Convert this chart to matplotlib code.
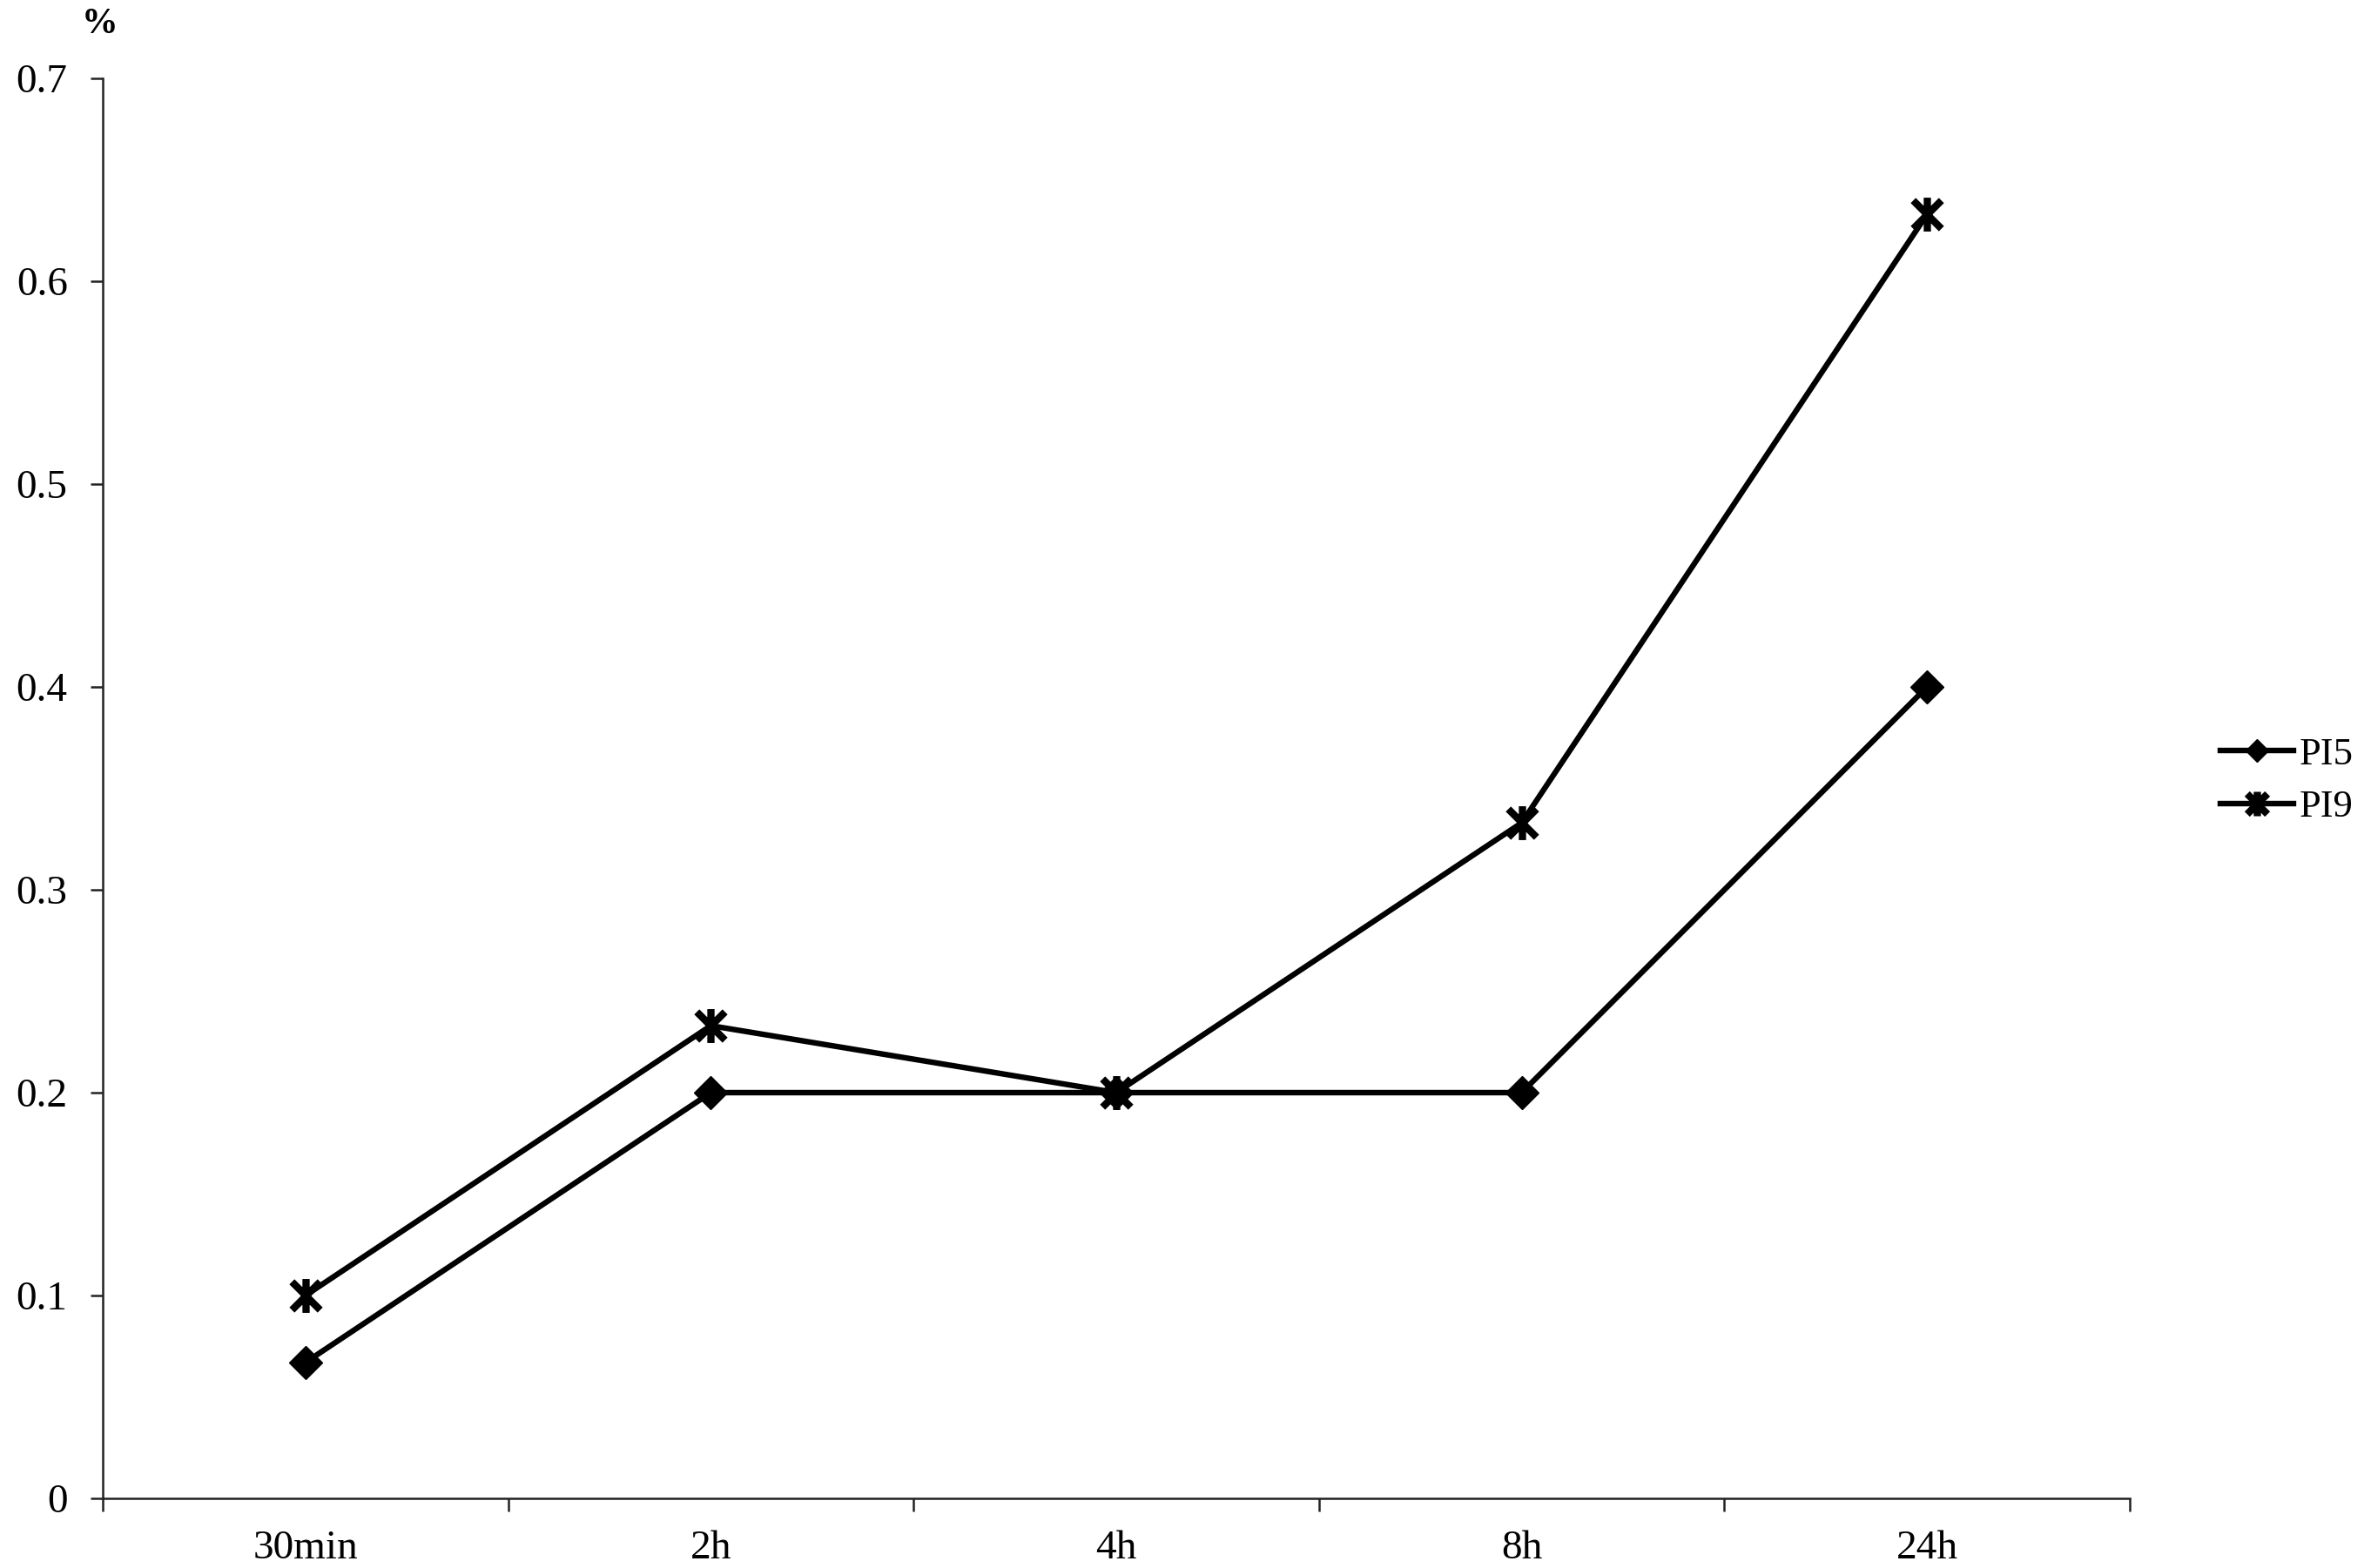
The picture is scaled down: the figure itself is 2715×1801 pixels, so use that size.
import matplotlib
matplotlib.use('Agg')
import matplotlib.pyplot as plt
from matplotlib.path import Path

plt.rcParams['font.family'] = ['Liberation Serif', 'DejaVu Serif']

categories = ['30min', '2h', '4h', '8h', '24h']
pi5 = [0.067, 0.2, 0.2, 0.2, 0.4]
pi9 = [0.1, 0.233, 0.2, 0.333, 0.633]
yticks = [0, 0.1, 0.2, 0.3, 0.4, 0.5, 0.6, 0.7]
ytick_labels = ['0', '0.1', '0.2', '0.3', '0.4', '0.5', '0.6', '0.7']

# excel style star: X with a vertical bar
star = Path([(-1, -1), (1, 1), (-1, 1), (1, -1), (0, -1.2), (0, 1.2)],
            [Path.MOVETO, Path.LINETO, Path.MOVETO, Path.LINETO, Path.MOVETO, Path.LINETO])

fig = plt.figure(figsize=(27.15, 18.01), dpi=100)
ax = fig.add_axes([118/2715, 1-1721/1801, (2446-118)/2715, (1721-90)/1801])

x = list(range(len(categories)))
ax.plot(x, pi5, color='black', linewidth=4.6, marker='D', markersize=19,
        label='PI5')
ax.plot(x, pi9, color='black', linewidth=4.6, marker=star, markersize=28,
        markeredgewidth=6, markerfacecolor='none', label='PI9')

ax.set_xlim(-0.5, len(categories) - 0.5)
ax.set_ylim(0, 0.7)
for s in ['top', 'right']:
    ax.spines[s].set_visible(False)
for s in ['left', 'bottom']:
    ax.spines[s].set_linewidth(1.8)
    ax.spines[s].set_color('#222222')

ax.set_yticks(yticks)
ax.set_yticklabels(ytick_labels)
ax.tick_params(axis='y', direction='out', length=10, width=1.8, pad=19,
               labelsize=34, color='#222222')

ax.set_xticks([i - 0.5 for i in range(len(categories) + 1)])
ax.set_xticklabels([])
ax.tick_params(axis='x', which='major', direction='out', length=11, width=1.8,
               color='#222222')
ax.set_xticks(x, minor=True)
ax.set_xticklabels(categories, minor=True)
ax.tick_params(axis='x', which='minor', length=0, pad=26, labelsize=34)

fig.text(115/2715, 1-28/1801, '%', fontsize=30, fontweight='bold',
         ha='center', va='center')

fig.legend(loc='center left', bbox_to_anchor=(2550/2715, 1-897/1801),
           bbox_transform=fig.transFigure, frameon=False, fontsize=32,
           borderpad=0, borderaxespad=0, handlelength=1.9,
           handletextpad=0.15, labelspacing=0.45, markerscale=0.72)

fig.savefig('out.png', dpi=100)
